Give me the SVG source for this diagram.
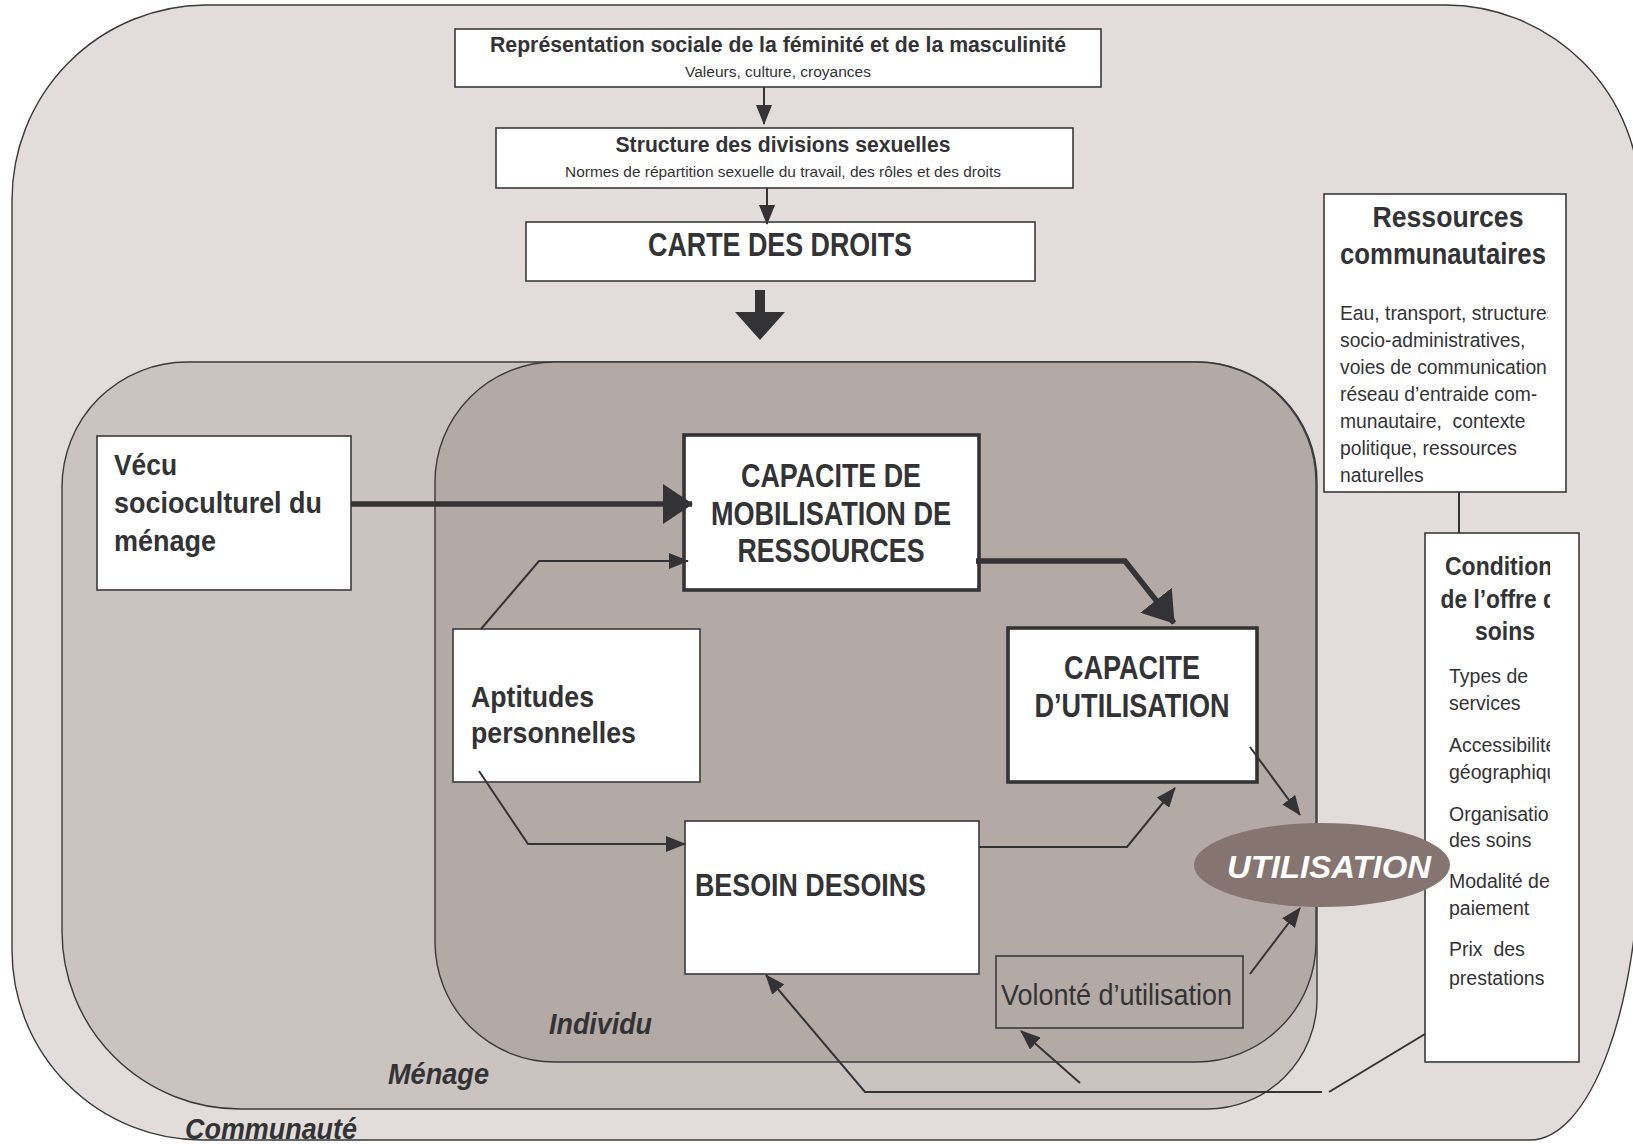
<svg xmlns="http://www.w3.org/2000/svg" width="1633" height="1144" viewBox="0 0 1633 1144">
<style>
.t{font-family:"Liberation Sans",Arial,sans-serif;fill:#333336}
.b{font-weight:bold}
.i{font-style:italic}
.box{fill:#ffffff;stroke:#3a3a3c;stroke-width:1.6}
.tbox{fill:#ffffff;stroke:#333336;stroke-width:3.6}
.ln{fill:none;stroke:#333336;stroke-width:2}
.thk{fill:none;stroke:#333336;stroke-width:5.5}
.zone{stroke:#3a3a3c;stroke-width:1.4}
</style>
<defs>
<marker id="ah" markerUnits="userSpaceOnUse" viewBox="0 0 20 16" refX="19" refY="8" markerWidth="20" markerHeight="16" orient="auto"><path d="M0,0 L20,8 L0,16 z" fill="#333336"/></marker>
<marker id="ahb" markerUnits="userSpaceOnUse" viewBox="0 0 30 40" refX="29" refY="20" markerWidth="30" markerHeight="40" orient="auto"><path d="M0,0 L30,20 L0,40 z" fill="#333336"/></marker>
<clipPath id="cr"><rect x="1300" y="180" width="248" height="320"/></clipPath>
<clipPath id="cc"><rect x="1400" y="520" width="150" height="560"/></clipPath>
</defs>

<g id="communaute">
<path class="zone" fill="#e2dddb" d="M205,5 H1445 A195 195 0 0 1 1640,200 V840 A110 300 0 0 1 1530,1140 H202 A190 190 0 0 1 12,950 V200 A195 195 0 0 1 205,5 Z"/>
<text class="t b i" x="185" y="1139" font-size="29" textLength="172" lengthAdjust="spacingAndGlyphs">Communauté</text>
</g>
<g id="menage">
<path class="zone" fill="#cbc3c0" d="M187,362 H1197 A120 120 0 0 1 1317,482 V1000 A110 110 0 0 1 1207,1109 H240 A178 178 0 0 1 62,931 V487 A125 125 0 0 1 187,362 Z"/>
<text class="t b i" x="388" y="1084" font-size="29" textLength="101" lengthAdjust="spacingAndGlyphs">Ménage</text>
</g>
<g id="individu">
<rect class="zone" fill="#b3a9a5" x="435" y="362" width="881" height="700" rx="120" ry="120"/>
<text class="t b i" x="549" y="1034" font-size="29" textLength="103" lengthAdjust="spacingAndGlyphs">Individu</text>
</g>

<g id="representation">
<rect class="box" x="455" y="29" width="646" height="58"/>
<text class="t b" x="778" y="52" font-size="22" text-anchor="middle" textLength="576" lengthAdjust="spacingAndGlyphs">Représentation sociale de la féminité et de la masculinité</text>
<text class="t" x="778" y="77" font-size="14" text-anchor="middle" textLength="186" lengthAdjust="spacingAndGlyphs">Valeurs, culture, croyances</text>
</g>
<g id="structure">
<rect class="box" x="496" y="128" width="577" height="60"/>
<text class="t b" x="783" y="152" font-size="22" text-anchor="middle" textLength="335" lengthAdjust="spacingAndGlyphs">Structure des divisions sexuelles</text>
<text class="t" x="783" y="177" font-size="15" text-anchor="middle" textLength="436" lengthAdjust="spacingAndGlyphs">Normes de répartition sexuelle du travail, des rôles et des droits</text>
</g>
<g id="carte">
<rect class="box" x="526" y="222" width="509" height="59"/>
<text class="t b" x="780" y="256" font-size="34" text-anchor="middle" textLength="264" lengthAdjust="spacingAndGlyphs">CARTE DES DROITS</text>
</g>
<g id="ressources">
<rect class="box" x="1324" y="194" width="242" height="298"/>
<g clip-path="url(#cr)">
<text class="t b" x="1448" y="227" font-size="29" text-anchor="middle" textLength="151" lengthAdjust="spacingAndGlyphs">Ressources</text>
<text class="t b" x="1340" y="264" font-size="29" textLength="206" lengthAdjust="spacingAndGlyphs">communautaires</text>
<g class="t" font-size="19.3">
<text x="1340" y="320">Eau, transport, structures</text>
<text x="1340" y="347">socio-administratives,</text>
<text x="1340" y="374">voies de communication,</text>
<text x="1340" y="401">réseau d’entraide com-</text>
<text x="1340" y="428">munautaire,&#160; contexte</text>
<text x="1340" y="455">politique, ressources</text>
<text x="1340" y="482">naturelles</text>
</g>
</g>
</g>
<g id="conditions">
<rect class="box" x="1425" y="533" width="154" height="529"/>
<g clip-path="url(#cc)">
<text class="t b" x="1505" y="575" font-size="26" text-anchor="middle" textLength="120" lengthAdjust="spacingAndGlyphs">Conditions</text>
<text class="t b" x="1505" y="608" font-size="26" text-anchor="middle" textLength="129" lengthAdjust="spacingAndGlyphs">de l’offre de</text>
<text class="t b" x="1505" y="640" font-size="26" text-anchor="middle" textLength="60" lengthAdjust="spacingAndGlyphs">soins</text>
<g class="t" font-size="19.5">
<text x="1449" y="683">Types de</text>
<text x="1449" y="710">services</text>
<text x="1449" y="752">Accessibilité</text>
<text x="1449" y="779">géographique</text>
<text x="1449" y="821">Organisation</text>
<text x="1449" y="847">des soins</text>
<text x="1449" y="888">Modalité de</text>
<text x="1449" y="915">paiement</text>
<text x="1449" y="956">Prix&#160; des</text>
<text x="1449" y="985">prestations</text>
</g>
</g>
</g>
<g id="vecu">
<rect class="box" x="97" y="436" width="254" height="154"/>
<text class="t b" x="114" y="475" font-size="29" textLength="63" lengthAdjust="spacingAndGlyphs">Vécu</text>
<text class="t b" x="114" y="513" font-size="29" textLength="208" lengthAdjust="spacingAndGlyphs">socioculturel du</text>
<text class="t b" x="114" y="551" font-size="29" textLength="102" lengthAdjust="spacingAndGlyphs">ménage</text>
</g>
<g id="mobilisation">
<rect class="tbox" x="684" y="435" width="295" height="155"/>
<text class="t b" x="831" y="487" font-size="33" text-anchor="middle" textLength="180" lengthAdjust="spacingAndGlyphs">CAPACITE DE</text>
<text class="t b" x="831" y="525" font-size="33" text-anchor="middle" textLength="240" lengthAdjust="spacingAndGlyphs">MOBILISATION DE</text>
<text class="t b" x="831" y="562" font-size="33" text-anchor="middle" textLength="187" lengthAdjust="spacingAndGlyphs">RESSOURCES</text>
</g>
<g id="aptitudes">
<rect class="box" x="453" y="629" width="247" height="153"/>
<text class="t b" x="471" y="707" font-size="29" textLength="123" lengthAdjust="spacingAndGlyphs">Aptitudes</text>
<text class="t b" x="471" y="743" font-size="29" textLength="165" lengthAdjust="spacingAndGlyphs">personnelles</text>
</g>
<g id="utilisation-capacite">
<rect class="tbox" x="1008" y="628" width="249" height="154"/>
<text class="t b" x="1132" y="679" font-size="33" text-anchor="middle" textLength="136" lengthAdjust="spacingAndGlyphs">CAPACITE</text>
<text class="t b" x="1132" y="717" font-size="33" text-anchor="middle" textLength="195" lengthAdjust="spacingAndGlyphs">D’UTILISATION</text>
</g>
<g id="besoin">
<rect class="box" x="685" y="821" width="294" height="153"/>
<text class="t b" x="695" y="896" font-size="31" textLength="231" lengthAdjust="spacingAndGlyphs">BESOIN DESOINS</text>
</g>
<g id="volonte">
<rect fill="none" stroke="#3a3a3c" stroke-width="1.6" x="996" y="956" width="247" height="72"/>
<text class="t" x="1001" y="1005" font-size="29" textLength="231" lengthAdjust="spacingAndGlyphs">Volonté d’utilisation</text>
</g>
<g id="utilisation">
<ellipse cx="1322" cy="865" rx="128" ry="42" fill="#85746f"/>
<text class="t b i" x="1329" y="878" font-size="32" style="fill:#ffffff" text-anchor="middle" textLength="204" lengthAdjust="spacingAndGlyphs">UTILISATION</text>
</g>

<g id="connectors">
<line class="ln" x1="764" y1="87" x2="764" y2="124" marker-end="url(#ah)"/>
<line class="ln" x1="767" y1="188" x2="767" y2="224" marker-end="url(#ah)"/>
<rect x="755" y="290" width="10" height="24" fill="#333336"/>
<path d="M735,312 L785,312 L760,340 Z" fill="#333336"/>
<line class="thk" x1="351" y1="504" x2="692" y2="504" marker-end="url(#ahb)"/>
<polyline class="ln" points="481,629 539,561 688,561" marker-end="url(#ah)"/>
<polyline class="ln" points="479,771 528,844 685,844" marker-end="url(#ah)"/>
<polyline class="thk" points="976,561 1125,561 1174,623" marker-end="url(#ahb)"/>
<polyline class="ln" points="979,847 1127,847 1175,788" marker-end="url(#ah)"/>
<line class="ln" x1="1250" y1="747" x2="1300" y2="815" marker-end="url(#ah)"/>
<line class="ln" x1="1250" y1="974" x2="1300" y2="908" marker-end="url(#ah)"/>
<line class="ln" x1="1459" y1="492" x2="1459" y2="533"/>
<line class="ln" x1="1425" y1="1034" x2="1329" y2="1092"/>
<polyline class="ln" points="1322,1092 865,1092 766,975" marker-end="url(#ah)"/>
<line class="ln" x1="1080" y1="1083" x2="1021" y2="1031" marker-end="url(#ah)"/>
</g>
</svg>
